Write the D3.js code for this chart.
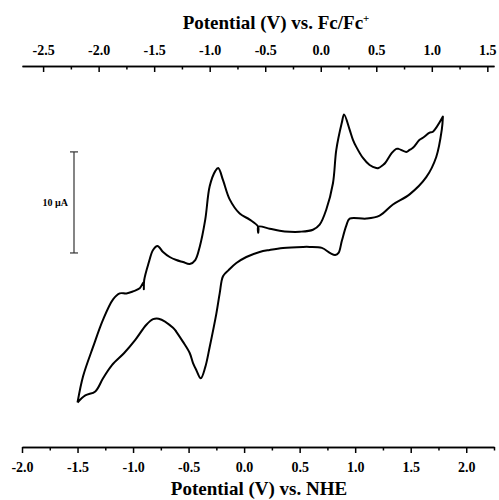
<!DOCTYPE html>
<html>
<head>
<meta charset="utf-8">
<script src="https://cdn.jsdelivr.net/npm/d3@7"></script>
<style>
  body { margin: 0; background: #fff; }
  svg { display: block; font-family: "Liberation Serif", "Times New Roman", serif; font-weight: bold; }
  .axis path, .axis line { stroke: #000; stroke-width: 1.5; }
  .axis text { font-size: 14px; font-family: "Liberation Serif", serif; font-weight: bold; fill: #000; }
</style>
</head>
<body>
<div id="chart"></div>
<script>
// Forward sweep (upper trace), potential vs NHE (V) and current (µA)
const forwardV = [-1.50, -1.45, -1.36, -1.27, -1.18, -1.12, -1.06, -1.00, -0.94, -0.905, -0.903, -0.90,
  -0.86, -0.82, -0.78, -0.73, -0.67, -0.61, -0.55, -0.49, -0.44, -0.40, -0.35, -0.31, -0.26, -0.233,
  -0.19, -0.13, -0.04, 0.05, 0.126, 0.127, 0.128, 0.23, 0.32, 0.41, 0.50, 0.62, 0.68, 0.74, 0.80,
  0.83, 0.88, 0.90, 0.95, 0.98, 1.01, 1.07, 1.13, 1.19, 1.21, 1.25, 1.27, 1.33, 1.37, 1.39, 1.46,
  1.49, 1.52, 1.58, 1.61, 1.67, 1.70, 1.79];
const forwardI = [-14.8, -12.2, -9.3, -6.6, -4.6, -4.0, -4.0, -3.8, -3.5, -2.9, -3.6, -2.7,
  -1.0, 0.3, 0.7, 0.1, -0.4, -0.7, -0.9, -1.1, -0.7, 0.6, 3.3, 6.6, 8.1, 8.4,
  7.2, 5.3, 3.9, 3.3, 2.6, 2.0, 2.6, 2.4, 2.2, 2.1, 2.1, 2.3, 2.8, 4.3, 6.9,
  10.2, 12.9, 13.7, 12.2, 11.2, 10.5, 9.4, 8.7, 8.4, 8.4, 8.7, 8.9, 9.9, 10.3, 10.3, 10.0,
  10.2, 10.4, 11.2, 11.4, 11.9, 12.0, 13.5];

// Reverse sweep (lower trace)
const reverseV = [1.79, 1.78, 1.73, 1.64, 1.49, 1.34, 1.22, 1.10, 0.95, 0.92, 0.88, 0.85, 0.82,
  0.78, 0.70, 0.59, 0.53, 0.35, 0.23, 0.14, 0.02, -0.07, -0.14, -0.19, -0.22, -0.25, -0.31,
  -0.35, -0.39, -0.43, -0.46, -0.49, -0.55, -0.61, -0.64, -0.77, -0.82, -0.88, -0.98, -1.08,
  -1.19, -1.27, -1.34, -1.43, -1.50];
const reverseI = [13.5, 12.2, 9.5, 7.5, 5.8, 4.8, 3.7, 3.4, 3.4, 2.7, 1.2, 0.0, -0.2,
  -0.05, 0.5, 0.6, 0.6, 0.5, 0.3, 0.1, -0.4, -1.0, -1.7, -2.3, -4.0, -6.0, -9.3,
  -11.3, -12.4, -11.6, -10.9, -9.9, -8.8, -7.8, -7.4, -6.5, -6.55, -7.1, -8.6, -9.9,
  -11.1, -12.4, -13.7, -14.1, -14.8];

const bottomTicks = [-2.0, -1.5, -1.0, -0.5, 0.0, 0.5, 1.0, 1.5, 2.0];
const topTicks = [-2.5, -2.0, -1.5, -1.0, -0.5, 0.0, 0.5, 1.0, 1.5];
const fcOffset = 0.69;          // E(NHE) - E(Fc/Fc+)
const scaleBar = [0, 10];       // µA

const width = 499, height = 500;
const x = d3.scaleLinear().domain([-2.0, 2.25]).range([22, 494]);
const xTop = d3.scaleLinear().domain([-2.0 - fcOffset, 2.25 - fcOffset]).range([22, 494]);
const y = d3.scaleLinear().domain([-19.2, 18.5]).range([447, 66]);

const svg = d3.select('#chart').append('svg')
  .attr('width', width)
  .attr('height', height);

// Bottom axis (NHE)
const minorBottom = d3.range(-2.0, 2.26, 0.25).filter(v => !bottomTicks.some(t => Math.abs(t - v) < 1e-6));
svg.append('g').attr('class', 'axis')
  .attr('transform', 'translate(0,447)')
  .call(d3.axisBottom(x).tickValues(minorBottom).tickSize(3.5).tickSizeOuter(0).tickFormat(''));
svg.append('g').attr('class', 'axis')
  .attr('transform', 'translate(0,447)')
  .call(d3.axisBottom(x).tickValues(bottomTicks).tickSize(6).tickSizeOuter(0)
    .tickPadding(9).tickFormat(d3.format('.1f')));

// Top axis (Fc/Fc+), ticks pointing inward
const minorTop = d3.range(-2.5, 1.6, 0.25).filter(v => !topTicks.some(t => Math.abs(t - v) < 1e-6));
svg.append('g').attr('class', 'axis')
  .attr('transform', 'translate(0,66)')
  .call(d3.axisTop(xTop).tickValues(minorTop).tickSize(-3.5).tickSizeOuter(0).tickFormat(''));
svg.append('g').attr('class', 'axis')
  .attr('transform', 'translate(0,66)')
  .call(d3.axisTop(xTop).tickValues(topTicks).tickSize(-6).tickSizeOuter(0)
    .tickPadding(11).tickFormat(d3.format('.1f')));

// replace hyphen with minus-ish look (keep hyphen as in original)
svg.selectAll('.axis text').text(function() { return d3.select(this).text().replace('−', '-'); });

// Axis titles
const topTitle = svg.append('text')
  .attr('x', 276).attr('y', 29)
  .attr('text-anchor', 'middle')
  .style('font-size', '19px');
topTitle.append('tspan').text('Potential (V) vs. Fc/Fc');
topTitle.append('tspan').attr('dy', -7).style('font-size', '11px').text('+');

svg.append('text')
  .attr('x', 259).attr('y', 495)
  .attr('text-anchor', 'middle')
  .style('font-size', '19px')
  .text('Potential (V) vs. NHE');

// CV trace
const pts = forwardV.map((v, i) => [v, forwardI[i]])
  .concat(reverseV.map((v, i) => [v, reverseI[i]]));
const line = d3.line()
  .x(d => x(d[0]))
  .y(d => y(d[1]))
  .curve(d3.curveCatmullRom.alpha(0.5));

svg.append('path')
  .datum(pts)
  .attr('fill', 'none')
  .attr('stroke', '#000')
  .attr('stroke-width', 2)
  .attr('stroke-linejoin', 'round')
  .attr('d', line);

// Scale bar
const barX = 74;
const bar = svg.append('g').attr('stroke', '#333').attr('stroke-width', 1.2);
bar.append('line').attr('x1', barX).attr('x2', barX).attr('y1', y(scaleBar[0])).attr('y2', y(scaleBar[1]));
scaleBar.forEach(v => {
  bar.append('line').attr('x1', barX - 4).attr('x2', barX + 4).attr('y1', y(v)).attr('y2', y(v));
});
svg.append('text')
  .attr('x', 68).attr('y', (y(scaleBar[0]) + y(scaleBar[1])) / 2 + 3.5)
  .attr('text-anchor', 'end')
  .style('font-size', '10px')
  .text('10 µA');
</script>
</body>
</html>
